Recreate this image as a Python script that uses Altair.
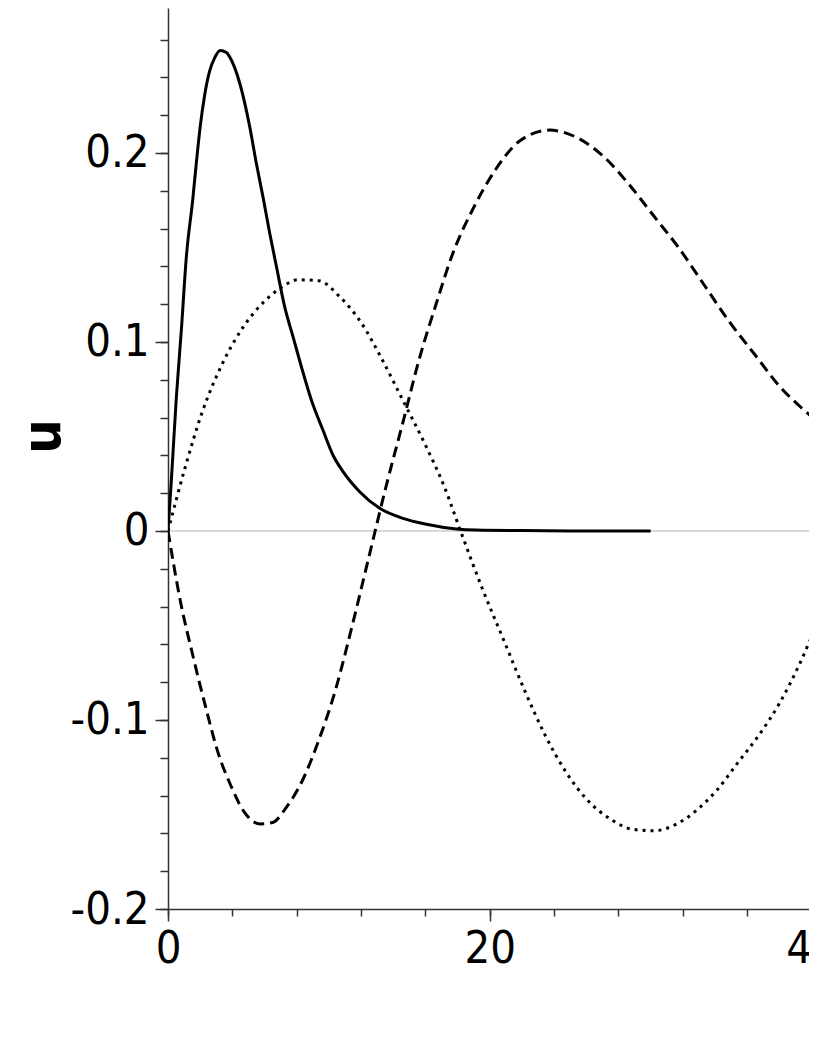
import altair as alt
import pandas as pd

# ---- data ----
solid_x = [0.0, 0.21, 0.52, 0.83, 1.14, 1.535, 1.78, 2.0, 2.28, 2.59, 2.90, 3.24, 3.63, 3.88,
           4.46, 5.08, 5.49, 5.90, 6.32, 6.74, 7.25, 7.77, 8.29, 8.91, 9.63, 10.25, 10.88,
           11.91, 13.16, 14.61, 16.06, 17.92, 19.17, 22.0, 25.0, 30.0]
solid_y = [0.0, 0.027, 0.0709, 0.1063, 0.145, 0.1751, 0.1963, 0.2138, 0.2307, 0.2434, 0.2503,
           0.2542, 0.2531, 0.2501, 0.2369, 0.2139, 0.1946, 0.1769, 0.1577, 0.1399, 0.1187,
           0.1028, 0.0869, 0.0693, 0.0534, 0.0402, 0.0314, 0.0208, 0.012, 0.0067, 0.0036,
           0.0011, 0.0005, 0.0002, 0.0, 0.0]

dashed_x = [0.0, 0.78, 1.57, 2.35, 3.13, 3.91, 4.69, 5.73, 6.51, 7.30, 8.33, 9.38, 10.42, 11.46,
            12.50, 13.54, 14.59, 15.62, 16.67, 17.71, 19.01, 20.32, 21.88, 23.70, 25.52, 27.09,
            28.65, 30.21, 31.78, 33.34, 34.90, 36.46, 38.02, 39.32, 40.31]
dashed_y = [0.0, -0.0376, -0.0668, -0.0935, -0.1178, -0.1348, -0.1481, -0.155, -0.1542, -0.1469,
            -0.1324, -0.1105, -0.0838, -0.0497, -0.0133, 0.0231, 0.0571, 0.0911, 0.1202, 0.147,
            0.1713, 0.1907, 0.2065, 0.2121, 0.2077, 0.198, 0.1834, 0.1665, 0.1494, 0.13, 0.1106,
            0.0935, 0.0765, 0.0656, 0.0583]

dotted_x = [0.0, 1.04, 2.09, 3.39, 4.69, 5.99, 7.04, 8.07, 9.38, 10.68, 11.98, 13.28, 14.59,
            15.89, 17.19, 18.23, 19.53, 20.83, 22.14, 23.44, 24.74, 26.04, 27.61, 28.91, 30.21,
            31.51, 32.81, 34.11, 35.41, 36.72, 38.02, 39.32, 40.31]
dotted_y = [0.0, 0.0328, 0.062, 0.0887, 0.1081, 0.1215, 0.1288, 0.1329, 0.1324, 0.1239, 0.1106,
            0.0912, 0.0693, 0.0474, 0.0231, -0.0011, -0.0303, -0.057, -0.0838, -0.108, -0.1276,
            -0.1421, -0.153, -0.1579, -0.1586, -0.1555, -0.1481, -0.1372, -0.1227, -0.1081,
            -0.091, -0.0692, -0.0497]

x_major_ticks = [0, 20, 40]
x_minor_ticks = [0, 4, 8, 12, 16, 20, 24, 28, 32, 36, 40]
y_major_ticks = [-0.2, -0.1, 0.0, 0.1, 0.2]
y_minor_ticks = [-0.2, -0.18, -0.16, -0.14, -0.12, -0.1, -0.08, -0.06, -0.04, -0.02, 0.0,
                 0.02, 0.04, 0.06, 0.08, 0.1, 0.12, 0.14, 0.16, 0.18, 0.2, 0.22, 0.24, 0.26]
zero_level = [0.0]

X_DOMAIN = [0, 40.34]
Y_DOMAIN = [-0.2, 0.2767]

FONT = "DejaVu Sans Condensed, Liberation Sans, sans-serif"
AXIS_COLOR = "#333333"

solid_df = pd.DataFrame({"x": solid_x, "u": solid_y})
dashed_df = pd.DataFrame({"x": dashed_x, "u": dashed_y})
dotted_df = pd.DataFrame({"x": dotted_x, "u": dotted_y})
zero_df = pd.DataFrame({"u": zero_level})

x_scale = alt.Scale(domain=X_DOMAIN, nice=False, zero=False)
y_scale = alt.Scale(domain=Y_DOMAIN, nice=False, zero=False)

x_major = alt.X(
    "x:Q", scale=x_scale,
    axis=alt.Axis(
        orient="bottom", values=x_major_ticks, format="d",
        tickSize=12, tickColor=AXIS_COLOR, tickWidth=1.5,
        domainColor=AXIS_COLOR, domainWidth=1.5,
        labelFont=FONT, labelFontSize=45, labelColor="black",
        labelPadding=5, labelFlush=False, labelOverlap=False,
        grid=False, title=None,
    ),
)
y_major = alt.Y(
    "u:Q", scale=y_scale,
    axis=alt.Axis(
        orient="left", values=y_major_ticks,
        labelExpr="(datum.value < -1e-9 ? '-' : '') + format(abs(datum.value), '.1~f')",
        tickSize=13, tickColor=AXIS_COLOR, tickWidth=1.5,
        domainColor=AXIS_COLOR, domainWidth=1.5,
        labelFont=FONT, labelFontSize=45, labelColor="black",
        labelPadding=6, labelFlush=False, labelOverlap=False,
        grid=False,
        title="u", titleFont=FONT, titleFontSize=54, titleFontWeight="bold",
        titleColor="black", titleAngle=270, titleAlign="center",
        titleBaseline="alphabetic", titleX=-109, titleY=428,
    ),
)
x_minor = alt.X(
    "x:Q", scale=x_scale,
    axis=alt.Axis(
        orient="bottom", values=x_minor_ticks, labels=False, domain=False,
        tickSize=7, tickColor=AXIS_COLOR, tickWidth=1.5, grid=False, title=None,
    ),
)
y_minor = alt.Y(
    "u:Q", scale=y_scale,
    axis=alt.Axis(
        orient="left", values=y_minor_ticks, labels=False, domain=False,
        tickSize=8, tickColor=AXIS_COLOR, tickWidth=1.5, grid=False, title=None,
    ),
)

minor_axes = alt.Chart(solid_df).mark_point(opacity=0).encode(x=x_minor, y=y_minor)

zero_line = alt.Chart(zero_df).mark_rule(color="#b4b4b4", strokeWidth=1).encode(y=y_major)

solid = alt.Chart(solid_df).mark_line(
    color="black", strokeWidth=3, interpolate="monotone", clip=True
).encode(x=x_major, y=y_major)

dashed = alt.Chart(dashed_df).mark_line(
    color="black", strokeWidth=3, strokeDash=[11, 6], interpolate="monotone", clip=True
).encode(x=x_major, y=y_major)

dotted = alt.Chart(dotted_df).mark_line(
    color="black", strokeWidth=3, strokeDash=[3, 5], interpolate="monotone", clip=True
).encode(x=x_major, y=y_major)

main = alt.layer(zero_line, solid, dashed, dotted)

chart = alt.layer(minor_axes, main).resolve_axis(
    x="independent", y="independent"
).properties(
    width=649,
    height=901,
    padding={"left": 160, "top": 0, "right": -8, "bottom": 100},
    autosize=alt.AutoSizeParams(type="none"),
    background="white",
).configure_view(stroke=None)

chart.save("out.html", embed_options={"renderer": "svg", "actions": False})
